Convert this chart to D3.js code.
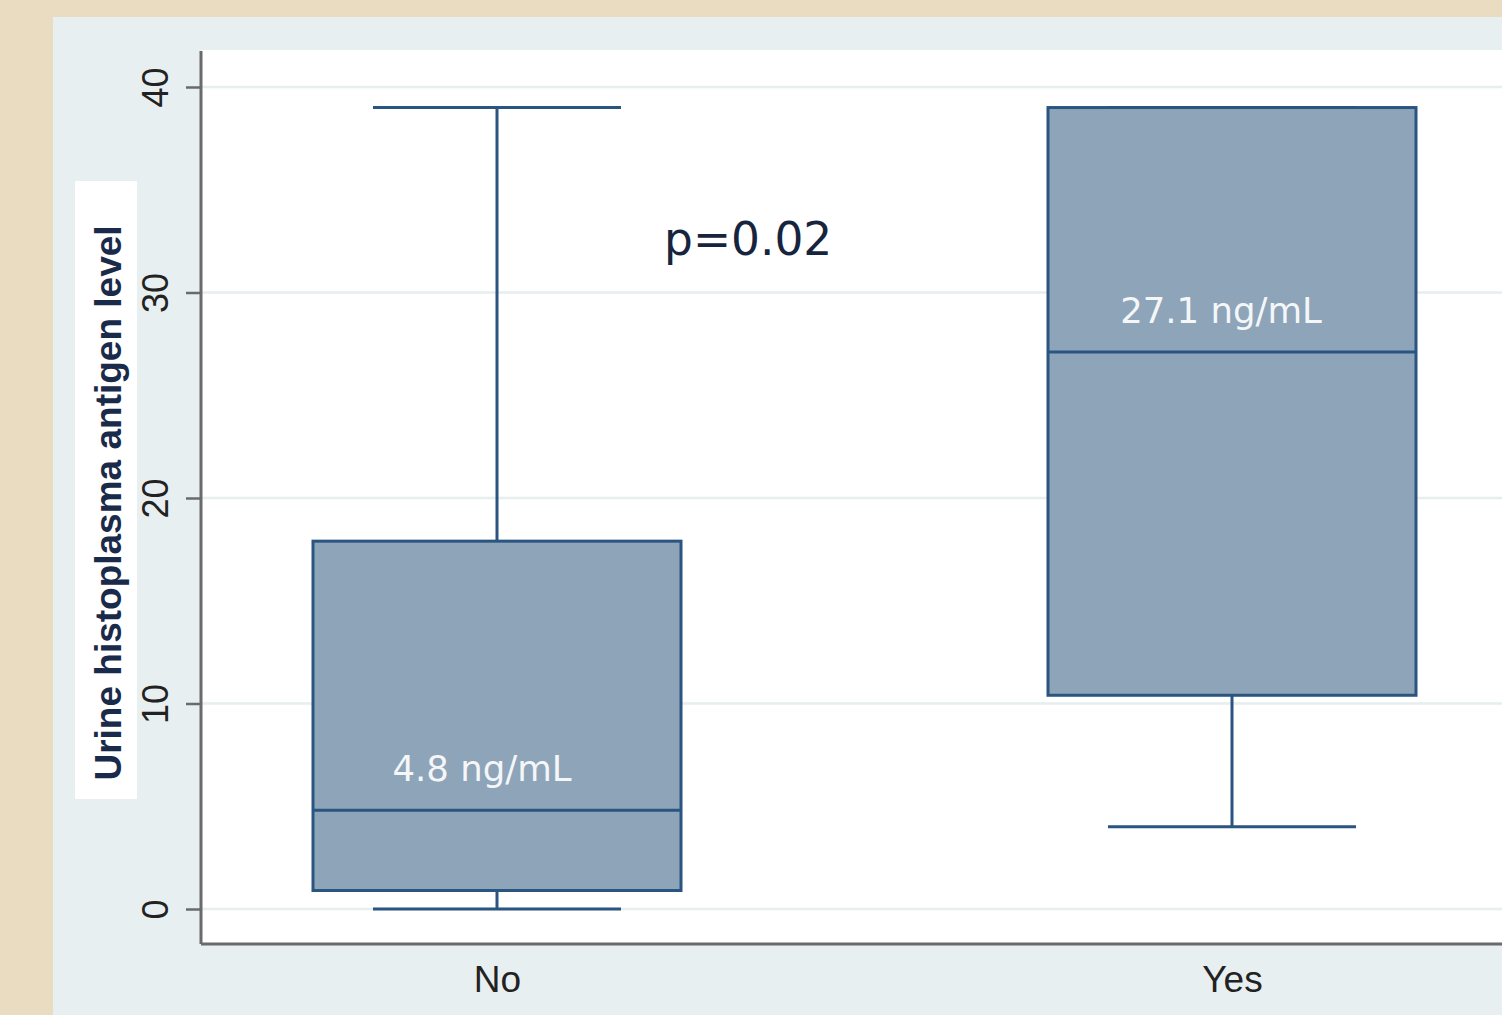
<!DOCTYPE html>
<html>
<head>
<meta charset="utf-8">
<script src="https://cdn.jsdelivr.net/npm/d3@7"></script>
<style>
  html, body { margin: 0; padding: 0; background: #e9dcc0; }
  svg { display: block; }
</style>
</head>
<body>
<svg id="chart" width="1502" height="1015"></svg>
<script>
// Group labels and box-plot summaries (ng/mL)
const categories = ["No", "Yes"];
const lowerWhisker = [0, 4.0];
const q1Values = [0.9, 10.4];
const medians = [4.8, 27.1];
const q3Values = [17.9, 39.0];
const upperWhisker = [39.0, 39.0];
const medianLabels = ["4.8 ng/mL", "27.1 ng/mL"];
const yTicks = [0, 10, 20, 30, 40];
const pValueText = "p=0.02";
const yTitle = "Urine histoplasma antigen level";

const svg = d3.select("#chart");
const W = 1502, H = 1015;

// Outer frame: beige page, light panel
svg.append("rect").attr("x", 0).attr("y", 0).attr("width", W).attr("height", H).attr("fill", "#e9dcc0");
svg.append("rect").attr("x", 53).attr("y", 17).attr("width", W - 53).attr("height", H - 17).attr("fill", "#e8eff1");

const plot = { left: 201, top: 50, right: 1540, bottom: 944 };
svg.append("rect").attr("x", plot.left).attr("y", plot.top)
  .attr("width", plot.right - plot.left).attr("height", plot.bottom - plot.top).attr("fill", "#ffffff");

const y = d3.scaleLinear().domain([0, 40]).range([909, 87]);
const xc = d3.scalePoint().domain(categories).range([497, 1232]);
const boxHalf = 184;
const capHalf = 124;

// Gridlines
svg.append("g").selectAll("line").data(yTicks).join("line")
  .attr("x1", plot.left).attr("x2", W)
  .attr("y1", d => y(d)).attr("y2", d => y(d))
  .attr("stroke", "#e6eef0").attr("stroke-width", 2.5);

// Y axis with rotated tick labels
const yAxis = d3.axisLeft(y).tickValues(yTicks).tickSize(15);
const gy = svg.append("g").attr("transform", `translate(${plot.left},0)`).call(yAxis);
gy.select(".domain").remove();
gy.selectAll(".tick line").attr("stroke", "#6a6a6a").attr("stroke-width", 2.5);
gy.selectAll(".tick text").each(function () {
  d3.select(this).attr("x", null).attr("y", null).attr("dy", null)
    .attr("transform", "translate(-33,0) rotate(-90)")
    .attr("text-anchor", "middle")
    .attr("font-family", "Liberation Sans, Arial, sans-serif")
    .attr("font-size", 36).attr("fill", "#222");
});

// Axis lines
svg.append("line").attr("x1", plot.left).attr("x2", plot.left).attr("y1", 51).attr("y2", plot.bottom)
  .attr("stroke", "#6a6a6a").attr("stroke-width", 3);
svg.append("line").attr("x1", plot.left).attr("x2", W).attr("y1", plot.bottom).attr("y2", plot.bottom)
  .attr("stroke", "#6a6a6a").attr("stroke-width", 3);

// X axis labels
const xAxis = d3.axisBottom(xc).tickSize(0).tickPadding(0);
const gx = svg.append("g").attr("transform", `translate(0,${plot.bottom})`).call(xAxis);
gx.select(".domain").remove();
gx.selectAll(".tick text")
  .attr("y", 48).attr("dy", null)
  .attr("font-family", "Liberation Sans, Arial, sans-serif")
  .attr("font-size", 37).attr("fill", "#222");

// Y title with white backing box
svg.append("rect").attr("x", 75).attr("y", 181).attr("width", 62).attr("height", 618).attr("fill", "#ffffff");
svg.append("text")
  .attr("transform", "translate(121,503) rotate(-90)")
  .attr("text-anchor", "middle")
  .attr("font-family", "Liberation Sans, Arial, sans-serif")
  .attr("font-weight", "bold").attr("font-size", 37)
  .attr("fill", "#1a2a4a")
  .text(yTitle);

// Box plots
const boxColor = "#8ea4b8";
const lineColor = "#2a5580";
const groups = svg.append("g").selectAll("g").data(categories).join("g");

groups.append("line")
  .attr("x1", c => xc(c)).attr("x2", c => xc(c))
  .attr("y1", (c, i) => y(q3Values[i])).attr("y2", (c, i) => y(upperWhisker[i]))
  .attr("stroke", lineColor).attr("stroke-width", 3);
groups.append("line")
  .attr("x1", c => xc(c)).attr("x2", c => xc(c))
  .attr("y1", (c, i) => y(q1Values[i])).attr("y2", (c, i) => y(lowerWhisker[i]))
  .attr("stroke", lineColor).attr("stroke-width", 3);
groups.append("line")
  .attr("x1", c => xc(c) - capHalf).attr("x2", c => xc(c) + capHalf)
  .attr("y1", (c, i) => y(upperWhisker[i])).attr("y2", (c, i) => y(upperWhisker[i]))
  .attr("stroke", lineColor).attr("stroke-width", 3);
groups.append("line")
  .attr("x1", c => xc(c) - capHalf).attr("x2", c => xc(c) + capHalf)
  .attr("y1", (c, i) => y(lowerWhisker[i])).attr("y2", (c, i) => y(lowerWhisker[i]))
  .attr("stroke", lineColor).attr("stroke-width", 3);
groups.append("rect")
  .attr("x", c => xc(c) - boxHalf).attr("width", boxHalf * 2)
  .attr("y", (c, i) => y(q3Values[i]))
  .attr("height", (c, i) => y(q1Values[i]) - y(q3Values[i]))
  .attr("fill", boxColor).attr("stroke", lineColor).attr("stroke-width", 3);
groups.append("line")
  .attr("x1", c => xc(c) - boxHalf).attr("x2", c => xc(c) + boxHalf)
  .attr("y1", (c, i) => y(medians[i])).attr("y2", (c, i) => y(medians[i]))
  .attr("stroke", lineColor).attr("stroke-width", 3);
groups.append("text")
  .attr("x", (c, i) => xc(c) - (i === 0 ? 15 : 11))
  .attr("y", (c, i) => y(medians[i]) - 29)
  .attr("text-anchor", "middle")
  .attr("font-family", "DejaVu Sans, Verdana, sans-serif")
  .attr("font-size", 35.5).attr("fill", "#f4f6f8")
  .text((c, i) => medianLabels[i]);

// p-value annotation
svg.append("text")
  .attr("x", 664).attr("y", 255)
  .attr("font-family", "DejaVu Sans, Verdana, sans-serif")
  .attr("font-size", 45.5).attr("fill", "#16243e")
  .text(pValueText);
</script>
</body>
</html>
